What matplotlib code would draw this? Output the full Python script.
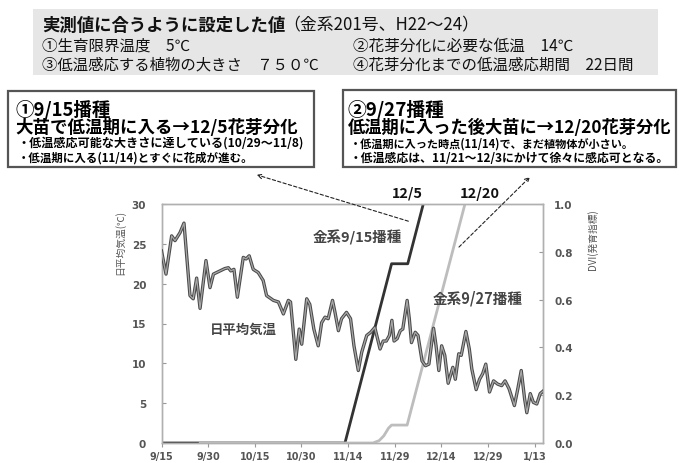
import matplotlib
matplotlib.use("Agg")
import matplotlib.pyplot as plt
from matplotlib.patches import Rectangle, FancyArrowPatch

# ---------------- data ----------------
x_tick_days = [0, 15, 30, 45, 60, 75, 90, 105, 120]
x_tick_labels = ["9/15", "9/30", "10/15", "10/30", "11/14", "11/29", "12/14", "12/29", "1/13"]
temp_ticks = [0, 5, 10, 15, 20, 25, 30]
dvi_ticks = [0.0, 0.2, 0.4, 0.6, 0.8, 1.0]

temp_days = [0, 1.45, 3.27, 4.34, 5.95, 7.23, 9.16, 10.2, 11.3, 12.4, 14.3, 15.6, 16.7,
             18.8, 20.4, 21.5, 22.3, 23.3, 24.4, 26.3, 27.2, 28.2, 29.5, 31.1, 32.7,
             33.8, 36.0, 37.6, 39.2, 40.8, 41.5, 42.4, 43.2, 44.3, 45.1, 46.7, 47.7,
             49.0, 50.4, 51.5, 52.6, 53.6, 55.0, 55.8, 56.9, 57.9, 59.5, 60.8, 61.9,
             63.3, 64.4, 66.0, 67.3, 68.6, 70.3, 71.3, 72.3, 73.3, 74.1, 74.8, 75.8,
             76.8, 77.6, 79.0, 79.7, 80.4, 81.6, 82.5, 83.8, 84.9, 86.0, 87.5, 88.3,
             89.2, 90.1, 91.1, 92.2, 93.7, 94.5, 95.6, 96.4, 97.9, 99.0, 99.8, 101.2,
             102.3, 103.3, 104.3, 105.5, 106.8, 108.1, 109.4, 110.5, 111.8, 113.5,
             114.6, 115.7, 116.8, 117.5, 118.6, 119.6, 120.7, 121.8, 122.7]
temp_vals = [24.1, 21.2, 26.0, 25.4, 26.4, 27.6, 18.5, 18.1, 20.7, 16.9, 22.9, 19.5, 21.2,
             21.6, 21.9, 22.0, 21.6, 21.8, 18.3, 23.3, 23.1, 23.5, 21.8, 21.4, 20.4,
             18.5, 17.9, 17.7, 16.2, 17.9, 17.7, 13.9, 10.5, 14.3, 12.4, 18.1, 17.4,
             14.3, 12.2, 15.1, 15.8, 15.6, 17.9, 16.4, 14.1, 15.6, 16.4, 15.6, 12.2,
             9.1, 11.4, 13.5, 13.9, 14.5, 11.8, 12.8, 12.8, 13.5, 15.4, 12.8, 13.1,
             14.1, 14.3, 17.9, 15.6, 12.6, 13.9, 13.5, 10.3, 9.7, 9.9, 14.4, 12.2,
             9.1, 12.2, 11.0, 7.5, 9.5, 8.0, 11.2, 11.0, 14.0, 11.8, 9.3, 6.7,
             8.0, 8.7, 9.9, 6.4, 7.8, 7.4, 7.2, 7.8, 6.8, 4.7,
             6.8, 9.1, 5.5, 3.8, 6.2, 5.1, 4.9, 6.2, 6.5]

dvi1_days = [0, 59.0, 74.0, 79.2, 84.2]           # 金系9/15播種
dvi1_vals = [0.0, 0.0, 0.75, 0.75, 1.0]
dvi2_days = [12, 68.0, 70.0, 71.5, 73.0, 74.0, 79.0, 97.6]   # 金系9/27播種
dvi2_vals = [0.0, 0.0, 0.01, 0.03, 0.062, 0.075, 0.075, 1.0]

# ---------------- figure ----------------
W, H = 679, 464
fig = plt.figure(figsize=(W / 100, H / 100), dpi=100)
fig.patch.set_facecolor("white")
FAM = ["Noto Sans CJK JP", "DejaVu Sans"]
renderer = fig.canvas.get_renderer()


def fx(x):
    return x / W


def fy(y):
    return 1 - y / H


def fit_text(x0, x1, yc, s, weight="bold", color="black", base=10, **kw):
    t = fig.text(fx(x0), fy(yc), s, fontsize=base, fontweight=weight, color=color,
                 va="center", ha="left", family=FAM, **kw)
    w = t.get_window_extent(renderer).width
    t.set_fontsize(base * (x1 - x0) / w)
    return t


# top grey box
fig.add_artist(Rectangle((fx(33), fy(76)), fx(658) - fx(33), fy(10) - fy(76),
                         transform=fig.transFigure, facecolor="#e6e6e6", edgecolor="none", zorder=0))
t0 = fit_text(42, 285, 25.5, "実測値に合うように設定した値", weight="bold", color="#111")
fig.text(fx(283), fy(25.5), "（金系201号、H22～24）", fontsize=t0.get_fontsize() * 0.97,
         fontweight="normal", color="#111", va="center", ha="left", family=FAM)
fit_text(42, 190, 46.5, "①生育限界温度　5℃", weight="normal", color="#111")
fit_text(353, 573, 46.5, "②花芽分化に必要な低温　14℃", weight="normal", color="#111")
fit_text(42, 318, 65, "③低温感応する植物の大きさ　７５０℃", weight="normal", color="#111")
fit_text(353, 633, 65, "④花芽分化までの低温感応期間　22日間", weight="normal", color="#111")

# box 1
fig.add_artist(Rectangle((fx(8), fy(168)), fx(314) - fx(8), fy(92) - fy(168),
                         transform=fig.transFigure, facecolor="white", edgecolor="#555",
                         linewidth=1.6, zorder=1))
fit_text(15, 110, 109.5, "①9/15播種", weight="bold")
fit_text(15, 297, 128, "大苗で低温期に入る→12/5花芽分化", weight="bold")
fit_text(18, 303, 143.5, "・低温感応可能な大きさに達している(10/29～11/8)", weight="bold")
fit_text(18, 252, 158.5, "・低温期に入る(11/14)とすぐに花成が進む。", weight="bold")

# box 2
fig.add_artist(Rectangle((fx(343), fy(168)), fx(676) - fx(343), fy(91) - fy(168),
                         transform=fig.transFigure, facecolor="white", edgecolor="#555",
                         linewidth=1.6, zorder=1))
fit_text(348, 445, 109.5, "②9/27播種", weight="bold")
fit_text(348, 672, 128, "低温期に入った後大苗に→12/20花芽分化", weight="bold")
fit_text(350, 633, 144.5, "・低温期に入った時点(11/14)で、まだ植物体が小さい。", weight="bold")
fit_text(350, 668, 158.5, "・低温感応は、11/21～12/3にかけて徐々に感応可となる。", weight="bold")

# ---------------- chart ----------------
ax = fig.add_axes([fx(161.5), fy(444), fx(543) - fx(161.5), fy(205) - fy(444)])
ax2 = ax.twinx()

ax2.plot(dvi1_days, dvi1_vals, color="#333333", lw=2.0, solid_capstyle="butt", zorder=2)
ax2.plot(dvi2_days, dvi2_vals, color="#bdbdbd", lw=2.0, solid_capstyle="butt", zorder=3)
ax2.set_ylim(0, 1.0)

ax.set_zorder(ax2.get_zorder() + 1)
ax.patch.set_visible(False)
ax.plot(temp_days, temp_vals, color="#4a4a4a", lw=2.4, zorder=4, solid_joinstyle="round")
ax.plot(temp_days, temp_vals, color="#a8a8a8", lw=0.9, zorder=5, solid_joinstyle="round")
ax.set_ylim(0, 30)
ax.set_xlim(0, 122.7)

ax.set_xticks(x_tick_days)
ax.set_xticklabels(x_tick_labels)
ax.set_yticks(temp_ticks)
ax.set_yticklabels([str(v) for v in temp_ticks])
ax2.set_yticks(dvi_ticks)
ax2.set_yticklabels([f"{v:.1f}" for v in dvi_ticks])

for a in (ax, ax2):
    for sp in a.spines.values():
        sp.set_color("#b0b0b0")
        sp.set_linewidth(1.0)
ax.tick_params(axis="x", direction="out", length=3, color="#999", pad=3,
               labelsize=7, labelcolor="#555")
ax.tick_params(axis="y", direction="in", length=3, color="#999", pad=11,
               labelsize=7.5, labelcolor="#555")
ax2.tick_params(axis="y", direction="in", length=3, color="#999", pad=8,
                labelsize=7.5, labelcolor="#555")
for lab in ax.get_xticklabels() + ax.get_yticklabels() + ax2.get_yticklabels():
    lab.set_fontweight("bold")

fig.text(fx(120), fy(243), "日平均気温(℃)", rotation=90, fontsize=7, color="#555",
         family=FAM, ha="center", va="center")
fig.text(fx(593), fy(240), "DVI(発育指標)", rotation=90, fontsize=7, color="#555",
         family=FAM, ha="center", va="center")

# in-chart labels
fit_text(313, 402, 238, "金系9/15播種", weight="bold", color="#444")
fit_text(433, 523, 298, "金系9/27播種", weight="bold", color="#444")
fit_text(210, 277, 330, "日平均気温", weight="bold", color="#444")
fit_text(392, 423, 194, "12/5", weight="bold", color="#111")
fit_text(460, 500, 194, "12/20", weight="bold", color="#111")

# dashed arrows
for (xa, ya), (xb, yb) in [((411, 223), (254, 175)), ((457, 250), (532, 176))]:
    fig.add_artist(FancyArrowPatch((fx(xa), fy(ya)), (fx(xb), fy(yb)),
                                   transform=fig.transFigure, arrowstyle="->",
                                   mutation_scale=8, linestyle=(0, (3, 2)),
                                   linewidth=0.8, color="#222", zorder=10))

fig.savefig("out.png", dpi=100)
